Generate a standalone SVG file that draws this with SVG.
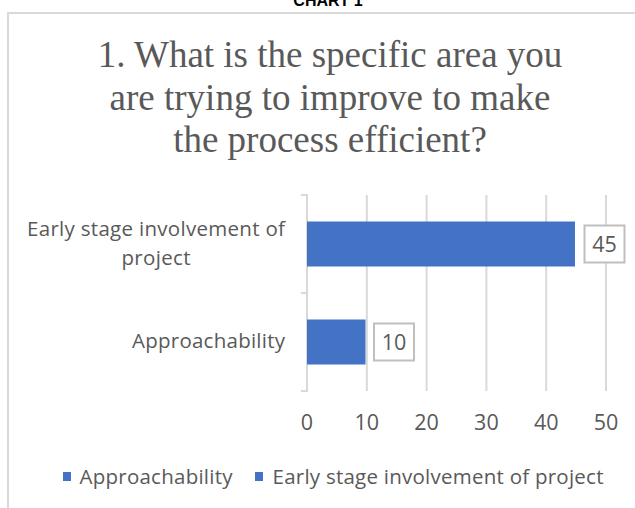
<svg xmlns="http://www.w3.org/2000/svg" width="635" height="508" viewBox="0 0 635 508">
<style>
.grid{stroke:#d9d9d9;stroke-width:2;fill:none}
.bar{fill:#4472c4}
.lbl{font-family:"Open Sans","Noto Sans",sans-serif;font-size:20.5px;fill:#595959}
.num{font-family:"Open Sans","Noto Sans",sans-serif;font-size:21.5px;fill:#595959;text-anchor:middle}
.box{fill:#ffffff;stroke:#bfbfbf;stroke-width:2}
.title{font-family:"Liberation Serif","Times New Roman",serif;font-size:37px;fill:#595959;text-anchor:middle}
</style>
<rect width="635" height="508" fill="#ffffff"/>
<text id="caption" x="328" y="6" font-family="Liberation Sans, Arial, sans-serif" font-weight="bold" font-size="16" text-anchor="middle" fill="#000000">CHART 1</text>
<rect id="frame" x="8" y="13" width="700" height="600" fill="#ffffff" stroke="#d9d9d9" stroke-width="2"/>
<g id="title">
<text class="title" x="330" y="66.5">1. What is the specific area you</text>
<text class="title" x="330" y="109.5">are trying to improve to make</text>
<text class="title" x="330" y="152">the process efficient?</text>
</g>
<g id="gridlines">
<line class="grid" x1="366.8" y1="195" x2="366.8" y2="391"/>
<line class="grid" x1="426.6" y1="195" x2="426.6" y2="391"/>
<line class="grid" x1="486.4" y1="195" x2="486.4" y2="391"/>
<line class="grid" x1="546.2" y1="195" x2="546.2" y2="391"/>
<line class="grid" x1="606" y1="195" x2="606" y2="391"/>
</g>
<g id="axis">
<line class="grid" x1="307" y1="194" x2="307" y2="392"/>
<line class="grid" x1="301" y1="195" x2="307" y2="195"/>
<line class="grid" x1="301" y1="293" x2="307" y2="293"/>
<line class="grid" x1="301" y1="391" x2="307" y2="391"/>
<text class="num" x="307" y="430">0</text>
<text class="num" x="366.8" y="430">10</text>
<text class="num" x="426.6" y="430">20</text>
<text class="num" x="486.4" y="430">30</text>
<text class="num" x="546.2" y="430">40</text>
<text class="num" x="606" y="430">50</text>
</g>
<g id="cat-early">
<text class="lbl" x="285" y="235.5" text-anchor="end" textLength="258">Early stage involvement of</text>
<text class="lbl" x="156" y="264.5" text-anchor="middle" textLength="69">project</text>
</g>
<g id="cat-approach">
<text class="lbl" x="285" y="348" text-anchor="end" textLength="153">Approachability</text>
</g>
<g id="bar-early">
<rect class="bar" x="307" y="221.5" width="268" height="45"/>
<rect class="box" x="584.5" y="225.5" width="40" height="37"/>
<text class="num" x="604.5" y="252">45</text>
</g>
<g id="bar-approach">
<rect class="bar" x="307" y="319.5" width="58.5" height="45"/>
<rect class="box" x="374" y="323.5" width="40" height="37"/>
<text class="num" x="394" y="350">10</text>
</g>
<g id="legend">
<rect class="bar" x="63" y="472" width="8" height="9"/>
<text class="lbl" x="79.5" y="483.5" textLength="153">Approachability</text>
<rect class="bar" x="255" y="472" width="8" height="9"/>
<text class="lbl" x="272.5" y="483.5" textLength="331">Early stage involvement of project</text>
</g>
</svg>
